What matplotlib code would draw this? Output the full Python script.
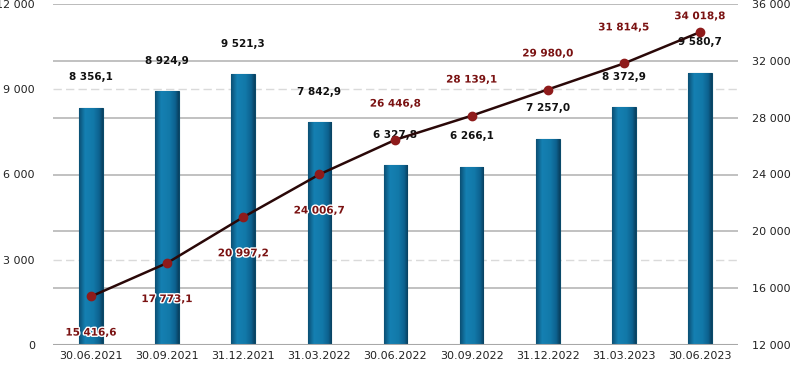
import matplotlib
matplotlib.use("Agg")
import matplotlib.pyplot as plt
import matplotlib.patheffects as pe
from matplotlib.colors import LinearSegmentedColormap
import numpy as np

categories = ["30.06.2021", "30.09.2021", "31.12.2021", "31.03.2022", "30.06.2022",
              "30.09.2022", "31.12.2022", "31.03.2023", "30.06.2023"]
bar_values = [8356.1, 8924.9, 9521.3, 7842.9, 6327.8, 6266.1, 7257.0, 8372.9, 9580.7]
line_values = [15416.6, 17773.1, 20997.2, 24006.7, 26446.8, 28139.1, 29980.0, 31814.5, 34018.8]
left_ticks = [0, 3000, 6000, 9000, 12000]
right_ticks = [12000, 16000, 20000, 24000, 28000, 32000, 36000]
# label placement: +1 above point, -1 below point
line_label_side = [-1, -1, -1, -1, 1, 1, 1, 1, 1]


def fmt_int(v):
    return f"{v:,.0f}".replace(",", " ")


def fmt_dec(v):
    return f"{v:,.1f}".replace(",", " ").replace(".", ",")


fig = plt.figure(figsize=(7.92, 3.65), dpi=100)
ax = fig.add_axes([53 / 792, 20 / 365, 685 / 792, 341 / 365])
ax2 = ax.twinx()

x = np.arange(len(categories))
ax.set_xlim(-0.5, len(categories) - 0.5)
ax.set_ylim(0, 12000)
ax2.set_ylim(12000, 36000)

# gridlines (all drawn on the left axis so bars cover them)
for rt in right_ticks[1:]:
    lv = (rt - 12000) / 24000 * 12000
    ax.axhline(lv, color="#bcbcbc", lw=1.3, zorder=0)
for lt in left_ticks[1:-1]:
    if lt == 6000:
        continue
    ax.axhline(lt, color="#dadada", lw=1.0, ls=(0, (6, 3)), zorder=0)
ax.axhline(0, color="#a8a8a8", lw=1.5, zorder=3)

bars = ax.bar(x, bar_values, width=0.31, color="#0e6e9c", edgecolor="#0a4a6a",
              linewidth=0.8, zorder=2)

cmap = LinearSegmentedColormap.from_list(
    "barg", [(0, "#0b4f74"), (0.25, "#1580b2"), (0.6, "#1279a9"), (0.85, "#0d6290"), (1, "#09405f")])
grad = np.linspace(0, 1, 64).reshape(1, -1)
for b in bars:
    x0, w, h = b.get_x(), b.get_width(), b.get_height()
    im = ax.imshow(grad, cmap=cmap, aspect="auto", extent=[x0, x0 + w, 0, h],
                   zorder=2.1, interpolation="bilinear")
    im.set_clip_path(b)
ax.set_xlim(-0.5, len(categories) - 0.5)
ax.set_ylim(0, 12000)

for xi, v in zip(x, bar_values):
    ax.annotate(fmt_dec(v), (xi, v), xytext=(0, 22), textcoords="offset points",
                ha="center", va="center", fontsize=7.5, fontweight="bold",
                color="#111111", zorder=5)

ax2.plot(x, line_values, color="#2a0808", lw=1.8, zorder=3,
         marker="o", markersize=6, markerfacecolor="#8e1b1b", markeredgecolor="#8e1b1b")

for i, (xi, v) in enumerate(zip(x, line_values)):
    off = 26 * line_label_side[i]
    if i == len(line_values) - 1:
        off = 11.5
    ax2.annotate(fmt_dec(v), (xi, v), xytext=(0, off), textcoords="offset points",
                 ha="center", va="center", fontsize=7.5, fontweight="bold",
                 color="#7a1212", zorder=6,
                 path_effects=[pe.withStroke(linewidth=2, foreground="white")])

ax.set_xticks(x)
ax.set_xticklabels(categories, fontsize=8, color="#222222")
ax.set_yticks(left_ticks)
ax.set_yticklabels([fmt_int(t) for t in left_ticks], fontsize=8, color="#222222")
ax2.set_yticks(right_ticks)
ax2.set_yticklabels([fmt_int(t) for t in right_ticks], fontsize=8, color="#222222")

ax.tick_params(axis="x", length=0, pad=4)
ax.tick_params(axis="y", length=0, pad=13)
ax2.tick_params(axis="y", length=0, pad=10)

for a in (ax, ax2):
    for s in a.spines.values():
        s.set_visible(False)
ax.axhline(12000, color="#bcbcbc", lw=1.3, zorder=0)

fig.savefig("out.png", dpi=100)
